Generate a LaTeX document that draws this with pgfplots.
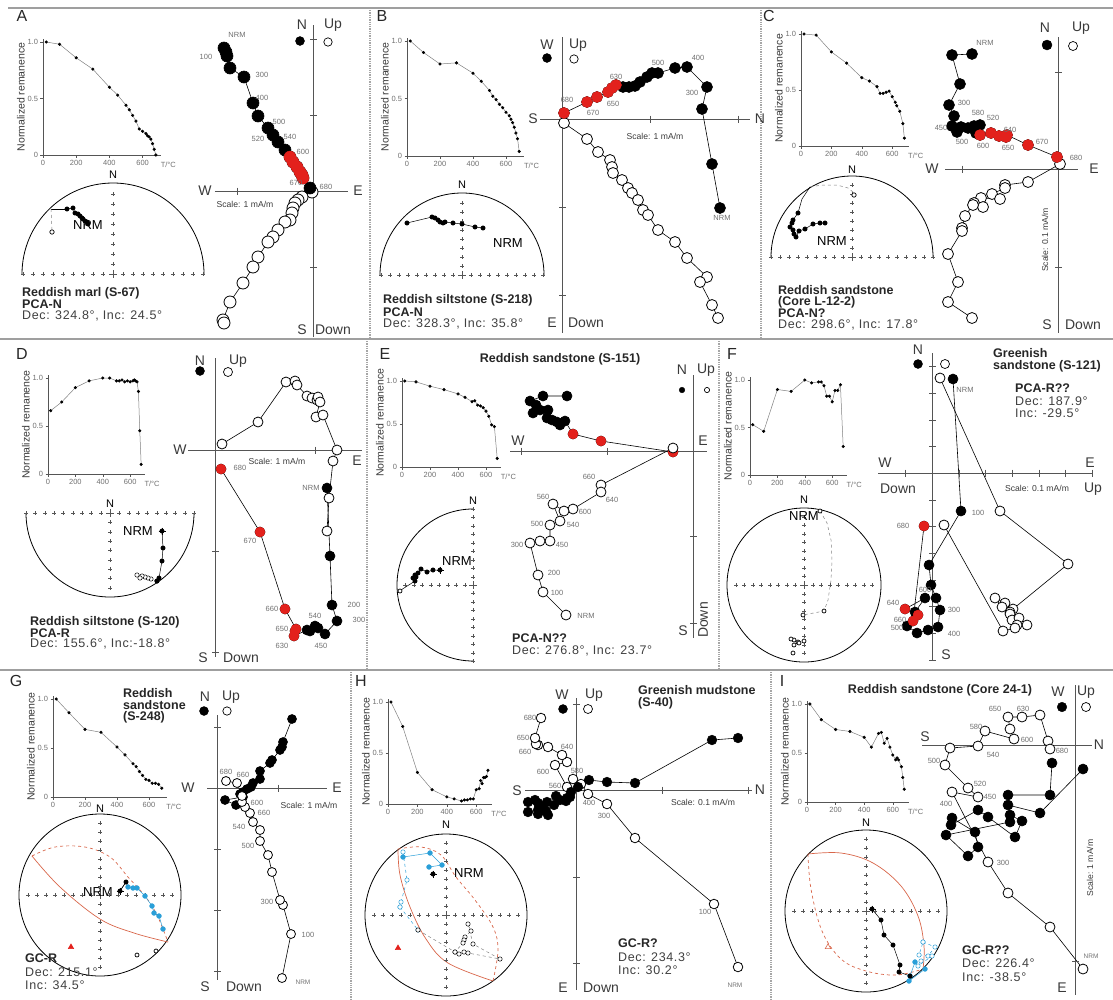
\documentclass[border=0pt]{standalone}
\usepackage{fontspec}
\setmainfont{Liberation Sans}
\newfontfamily\decfont[LetterSpace=5]{Liberation Sans}
\usepackage{pgfplots}
\pgfplotsset{compat=1.18}
\definecolor{redc}{HTML}{E3211C}
\definecolor{bluc}{HTML}{2A9FD8}
\definecolor{gcc}{HTML}{D8664A}
\definecolor{axg}{HTML}{555555}
\definecolor{tg}{HTML}{707070}
\definecolor{lg}{HTML}{3A3A3A}
\newcommand\fs[1]{\fontsize{#1}{#1}\selectfont}
\newcommand\lab[4][]{\node[inner sep=0pt,#1] at (#2pt,-#3pt) {#4};}
\pgfplotsset{
 pix/.style={x=1pt,y=1pt,anchor=origin,axis lines=none,clip=false,xmin=-5,xmax=5,ymin=-5,ymax=5},
 demag/.style={anchor=origin,clip=false,axis lines=left,axis line style={-,draw=axg,line width=0.5pt},
   xmin=0,xmax=710,ymin=0,ymax=1.03,xtick={0,200,400,600},xticklabels={0,200,400,600},
   ytick={0,0.5,1},yticklabels={0,0.5,1.0},tick align=outside,major tick length=2.5pt,
   tick style={draw=axg,line width=0.5pt},ticklabel style={font=\fs{7.5},text=tg},
   xticklabel style={yshift=1pt},yticklabel style={xshift=1pt},
   ylabel={Normalized remanence},ylabel style={font=\fs{10.5},text=lg,yshift=-4pt}},
 dm/.style={color=gray,line width=0.5pt,mark=*,mark size=1.3pt,mark options={fill=black,draw=black}},
 zf/.style={color=black,line width=0.6pt,mark=*,mark size=#1pt,mark options={fill=black,draw=black,solid}},
 zo/.style={color=black,line width=0.6pt,mark=*,mark size=#1pt,mark options={fill=white,draw=black,line width=0.8pt,solid}},
 zr/.style={only marks,mark=*,mark size=#1pt,mark options={fill=redc,draw=redc}},
 lf/.style={only marks,mark=*,mark size=#1pt,mark options={fill=black,draw=black}},
 lo/.style={only marks,mark=*,mark size=#1pt,mark options={fill=white,draw=black,line width=0.7pt}},
 htick/.style={only marks,mark=|,mark size=3.5pt,mark options={draw=axg,line width=0.7pt}},
 vtick/.style={only marks,mark=-,mark size=3.5pt,mark options={draw=axg,line width=0.7pt}},
 cross/.style={only marks,mark=+,mark size=1.7pt,mark options={draw=axg,line width=0.45pt}},
 ccross/.style={only marks,mark=+,mark size=4pt,mark options={draw=axg,line width=0.5pt}},
 sf/.style={color=black,line width=0.5pt,mark=*,mark size=2.2pt,mark options={fill=black,draw=black,solid}},
 so/.style={color=gray,dashed,line width=0.5pt,mark=*,mark size=2.2pt,mark options={fill=white,draw=black,solid,line width=0.5pt}},
 sob/.style={color=bluc,dashed,line width=0.5pt,mark=*,mark size=2.2pt,mark options={fill=white,draw=bluc,solid,line width=0.5pt}},
 sb/.style={color=bluc,line width=0.5pt,mark=*,mark size=2.4pt,mark options={fill=bluc,draw=bluc,solid}},
 nrmx/.style={only marks,mark=+,mark size=3.5pt,mark options={draw=black,line width=0.7pt}},
 gcs/.style={color=gcc,line width=0.7pt,smooth,tension=0.6,no markers},
 gcd/.style={color=gcc,line width=0.7pt,smooth,tension=0.6,no markers,dashed},
}
\tikzset{zax/.style={draw=axg,line width=0.8pt},circ/.style={draw=black,line width=0.8pt},
 tl/.style={text=tg,font=\fs{7.5}},bl/.style={font=\fs{14},text=lg},
 ttl/.style={anchor=west,font=\fs{12.5}\bfseries,text=black!85},
 dec/.style={anchor=west,font=\decfont\fs{12.5},text=black!75},
 scl/.style={font=\fs{8.6},text=lg},pl/.style={font=\fs{16},text=black!85}}
\newcommand\crossN{\addplot[cross] coordinates {(-72,0)(-63,0)(-54,0)(-45,0)(-36,0)(-27,0)(-18,0)(-9,0)(9,0)(18,0)(27,0)(36,0)(45,0)(54,0)(63,0)(72,0)(0,-72)(0,-63)(0,-54)(0,-45)(0,-36)(0,-27)(0,-18)(0,-9)(0,9)(0,18)(0,27)(0,36)(0,45)(0,54)(0,63)(0,72)};\addplot[ccross] coordinates {(0,0)};}
\begin{document}
\begin{tikzpicture}
\path[use as bounding box] (0,0) rectangle (1113pt,-999pt);
% frame
\draw[line width=2pt,draw=gray!75] (8pt,-8pt) -- (1113pt,-8pt);
\draw[line width=1.4pt,draw=gray!75] (0pt,-339pt) -- (1113pt,-339pt);
\draw[line width=1.4pt,draw=gray!75] (0pt,-670pt) -- (1113pt,-670pt);
\draw[densely dotted,line width=1.3pt,draw=gray!70] (370pt,-10pt) -- (370pt,-337pt);
\draw[densely dotted,line width=1.3pt,draw=gray!70] (761pt,-10pt) -- (761pt,-337pt);
\draw[densely dotted,line width=1.3pt,draw=gray!70] (367pt,-341pt) -- (367pt,-668pt);
\draw[densely dotted,line width=1.3pt,draw=gray!70] (719pt,-341pt) -- (719pt,-668pt);
\draw[densely dotted,line width=1.3pt,draw=gray!70] (351pt,-672pt) -- (351pt,-999pt);
\draw[densely dotted,line width=1.3pt,draw=gray!70] (771pt,-672pt) -- (771pt,-999pt);
\lab[pl]{22}{16}{A}\lab[pl]{382}{16}{B}\lab[pl]{769}{16}{C}
\lab[pl]{22}{354}{D}\lab[pl]{385}{354}{E}\lab[pl]{732}{354}{F}
\lab[pl]{16}{681}{G}\lab[pl]{361}{681}{H}\lab[pl]{782}{681}{I}

%================ A
\begin{axis}[demag,at={(43pt,-155pt)},x=0.166pt,y=113pt]
\addplot[dm] coordinates {(20,1.0)(100,0.98)(200,0.86)(300,0.76)(400,0.6)(450,0.53)(500,0.44)(520,0.4)(540,0.35)(560,0.3)(580,0.23)(600,0.21)(620,0.19)(630,0.17)(640,0.16)(650,0.14)(660,0.1)(670,0.05)(680,0.0)};
\node[tl,anchor=north,yshift=-3.5pt] at (axis cs:755,0) {T/°C};
\end{axis}
\begin{axis}[pix,at={(113pt,-274pt)}]
\draw[circ] (axis cs:91,0) arc[start angle=0,end angle=180,radius=91pt];
\addplot[cross] coordinates {(-90,0)(-80,0)(-70,0)(-60,0)(-50,0)(-40,0)(-30,0)(-20,0)(-10,0)(10,0)(20,0)(30,0)(40,0)(50,0)(60,0)(70,0)(80,0)(90,0)(0,10)(0,20)(0,30)(0,40)(0,50)(0,60)(0,70)(0,80)};
\addplot[ccross] coordinates {(0,0)};
\addplot[color=black,line width=0.5pt] coordinates {(-46,65)(-62,65)};
\addplot[color=gray,dashed,line width=0.5pt] coordinates {(-62,65)(-61,45)};
\addplot[sf] coordinates {(-46,65)(-40,66)(-38,61)(-35,60)(-33,58)(-31,56)(-30,55)(-28,53)(-26,52)(-25,50)};
\addplot[lo=2.2] coordinates {(-61,42)};
\end{axis}
\lab[font=\fs{11}]{113}{175}{N}
\lab[font=\fs{13}]{88}{225}{NRM}
\lab[ttl]{22}{293}{Reddish marl (S-67)}
\lab[ttl]{22}{304}{PCA-N}
\lab[dec]{22}{316}{Dec: 324.8°, Inc: 24.5°}
\begin{axis}[pix,at={(313pt,-191pt)}]
\draw[zax] (axis cs:-98,0) -- (axis cs:35,0);
\draw[zax] (axis cs:0,166) -- (axis cs:0,-146);
\addplot[htick] coordinates {(-76,0)};
\addplot[vtick] coordinates {(0,152)(0,76)(0,-76)};
\addplot[zo=6] coordinates {(-1,-1)(-11,-6)(-15,-9)(-18,-12)(-20,-17)(-21,-22)(-23,-29)(-28,-31)(-35,-39)(-40,-46)(-45,-51)(-55,-66)(-60,-76)(-70,-92)(-83,-111)(-90,-129)(-89,-132)};
\addplot[zf=6] coordinates {(-89,143)(-87,139)(-86,135)(-83,123)(-69,114)(-60,88)(-55,75)(-45,63)(-40,56)(-35,49)(-28,41)(-23,34)(-20,29)(-16,24)(-13,19)(-11,16)(-10,13)(-3,3)};
\addplot[zr=6] coordinates {(-23,34)(-20,29)(-16,24)(-13,19)(-11,16)(-10,13)};
\addplot[lf=4.5] coordinates {(-13,150)};
\addplot[lo=4.2] coordinates {(15,149)};
\end{axis}
\lab[bl]{302}{25}{N}\lab[bl]{333}{25}{Up}\lab[bl]{205}{191}{W}\lab[bl]{358}{191}{E}
\lab[bl]{302}{330}{S}\lab[bl]{333}{330}{Down}
\lab[scl]{245}{204}{Scale: 1 mA/m}
\lab[tl]{237}{35}{NRM}\lab[tl]{206}{57}{100}\lab[tl]{262}{75}{300}\lab[tl]{262}{98}{400}
\lab[tl]{279}{122}{500}\lab[tl]{258}{139}{520}\lab[tl]{290}{137}{540}\lab[tl]{303}{152}{600}
\lab[tl]{296}{183}{670}\lab[tl]{326}{187}{680}

%================ B
\begin{axis}[demag,at={(407pt,-156pt)},x=0.165pt,y=115pt]
\addplot[dm] coordinates {(20,1.0)(100,0.9)(200,0.8)(300,0.81)(400,0.72)(450,0.65)(500,0.57)(520,0.52)(540,0.49)(560,0.45)(580,0.42)(600,0.38)(620,0.35)(630,0.32)(640,0.29)(650,0.25)(660,0.2)(670,0.15)(680,0.04)};
\node[tl,anchor=north,yshift=-3.5pt] at (axis cs:755,0) {T/°C};
\end{axis}
\begin{axis}[pix,at={(462pt,-275pt)}]
\draw[circ] (axis cs:82,0) arc[start angle=0,end angle=180,radius=82pt];
\addplot[cross] coordinates {(-81,0)(-72,0)(-63,0)(-54,0)(-45,0)(-36,0)(-27,0)(-18,0)(-9,0)(9,0)(18,0)(27,0)(36,0)(45,0)(54,0)(63,0)(72,0)(81,0)(0,9)(0,18)(0,27)(0,36)(0,45)(0,54)(0,63)(0,72)};
\addplot[ccross] coordinates {(0,0)};
\addplot[sf] coordinates {(-55,52)(-30,58)(-27,57)(-24,55)(-22,53)(-19,52)(-17,53)(-9,52)(0,51)(13,48)(21,47)};
\end{axis}
\lab[font=\fs{11}]{462}{185}{N}
\lab[font=\fs{13}]{508}{243}{NRM}
\lab[ttl]{383}{300}{Reddish siltstone (S-218)}
\lab[ttl]{383}{312}{PCA-N}
\lab[dec]{383}{324}{Dec: 328.3°, Inc: 35.8°}
\begin{axis}[pix,at={(562pt,-119pt)}]
\draw[zax] (axis cs:-22,0) -- (axis cs:188,0);
\draw[zax] (axis cs:0,82) -- (axis cs:0,-214);
\addplot[htick] coordinates {(88,0)(176,0)};
\addplot[vtick] coordinates {(0,-88)(0,-176)};
\addplot[zo=5.5] coordinates {(2,-4)(25,-20)(36,-33)(48,-41)(50,-48)(51,-54)(60,-61)(66,-69)(70,-74)(76,-81)(81,-91)(86,-96)(96,-111)(113,-123)(125,-139)(145,-158)(138,-163)(150,-186)(156,-199)};
\addplot[zf=5.5] coordinates {(158,-89)(150,-45)(140,10)(145,32)(125,52)(113,51)(96,46)(90,46)(85,42)(78,37)(73,33)(67,32)(61,32)(54,34)(50,31)(46,27)(35,22)(25,17)(2,6)};
\addplot[zr=5.5] coordinates {(54,34)(50,31)(46,27)(35,22)(25,17)(2,6)};
\addplot[lf=4.5] coordinates {(-15,61)};
\addplot[lo=4.2] coordinates {(12,60)};
\end{axis}
\lab[bl]{547}{45}{W}\lab[bl]{578}{45}{Up}\lab[bl]{533}{119}{S}\lab[bl]{760}{119}{N}
\lab[bl]{552}{323}{E}\lab[bl]{586}{323}{Down}
\lab[scl]{655}{136}{Scale: 1 mA/m}
\lab[tl]{567}{100}{680}\lab[tl]{593}{113}{670}\lab[tl]{613}{104}{650}\lab[tl]{616}{77}{630}
\lab[tl]{658}{63}{500}\lab[tl]{698}{58}{400}\lab[tl]{692}{93}{300}\lab[tl]{722}{218}{NRM}

%================ C
\begin{axis}[demag,at={(801pt,-146pt)},x=0.152pt,y=112pt]
\addplot[dm] coordinates {(20,1.0)(100,0.99)(200,0.84)(300,0.74)(400,0.61)(450,0.58)(500,0.53)(520,0.47)(540,0.47)(560,0.48)(580,0.49)(600,0.44)(620,0.39)(630,0.36)(650,0.31)(670,0.2)(680,0.07)};
\node[tl,anchor=north,yshift=-3.5pt] at (axis cs:755,0) {T/°C};
\end{axis}
\begin{axis}[pix,at={(852pt,-257pt)}]
\draw[circ] (axis cs:81,0) arc[start angle=0,end angle=180,radius=81pt];
\addplot[cross] coordinates {(-81,0)(-72,0)(-63,0)(-54,0)(-45,0)(-36,0)(-27,0)(-18,0)(-9,0)(9,0)(18,0)(27,0)(36,0)(45,0)(54,0)(63,0)(72,0)(81,0)(0,9)(0,18)(0,27)(0,36)(0,45)(0,54)(0,63)(0,72)};
\addplot[ccross] coordinates {(0,0)};
\addplot[color=black,line width=0.5pt] coordinates {(-54,44)(-50,58)(-42,70)};
\addplot[color=gray,dashed,line width=0.5pt] coordinates {(-42,70)(-30,72)(-15,72)(-4,69)(1,65)};
\addplot[lo=2.2] coordinates {(2,62)};
\addplot[sf] coordinates {(-54,44)(-59,37)(-60,34)(-62,30)(-59,27)(-58,23)(-56,20)(-53,26)(-47,28)(-39,33)(-32,34)(-27,34)};
\end{axis}
\lab[font=\fs{11}]{852}{170}{N}
\lab[font=\fs{13}]{832}{241}{NRM}
\lab[ttl]{778}{290}{Reddish sandstone}
\lab[ttl]{778}{302}{(Core L-12-2)}
\lab[ttl]{778}{313}{PCA-N?}
\lab[dec]{778}{325}{Dec: 298.6°, Inc: 17.8°}
\begin{axis}[pix,at={(1058pt,-169pt)}]
\draw[zax] (axis cs:-113,0) -- (axis cs:20,0);
\draw[zax] (axis cs:0,132) -- (axis cs:0,-164);
\addplot[htick] coordinates {(-96,0)};
\addplot[vtick] coordinates {(0,97)(0,-98)};
\addplot[zo=5.5] coordinates {(2,5)(-30,-13)(-53,-16)(-53,-19)(-66,-25)(-58,-30)(-77,-29)(-84,-34)(-75,-38)(-85,-36)(-93,-47)(-96,-59)(-96,-62)(-110,-85)(-100,-113)(-110,-133)(-86,-149)};
\addplot[zf=5.5] coordinates {(-86,115)(-106,114)(-98,85)(-109,64)(-104,53)(-106,43)(-101,37)(-97,42)(-90,41)(-84,43)(-78,44)(-82,36)(-78,34)(-67,36)(-59,33)(-52,32)(-51,34)(-30,24)(-1,12)};
\addplot[zr=5.5] coordinates {(-78,34)(-67,36)(-59,33)(-52,32)(-51,34)(-30,24)(-1,12)};
\addplot[lf=5] coordinates {(-11,124)};
\addplot[lo=4.5] coordinates {(15,123)};
\end{axis}
\lab[bl]{1045}{28}{N}\lab[bl]{1081}{28}{Up}\lab[bl]{932}{169}{W}\lab[bl]{1094}{169}{E}
\lab[bl]{1047}{325}{S}\lab[bl]{1083}{325}{Down}
\lab[scl,rotate=90]{1045}{240}{Scale: 0.1 mA/m}
\lab[tl]{985}{43}{NRM}\lab[tl]{964}{103}{300}\lab[tl]{978}{113}{580}\lab[tl]{993}{118}{520}
\lab[tl]{941}{128}{450}\lab[tl]{962}{142}{500}\lab[tl]{983}{146}{600}\lab[tl]{1008}{148}{650}
\lab[tl]{1010}{130}{640}\lab[tl]{1042}{142}{670}\lab[tl]{1076}{158}{680}

%================ D
\begin{axis}[demag,at={(48pt,-474pt)},x=0.137pt,y=96pt]
\addplot[dm] coordinates {(20,0.66)(100,0.75)(200,0.9)(300,0.97)(400,1.0)(450,1.0)(500,0.97)(520,0.97)(540,0.98)(560,0.96)(580,0.97)(600,0.96)(620,0.97)(630,0.98)(640,0.97)(650,0.96)(660,0.86)(670,0.45)(680,0.1)};
\node[tl,anchor=north,yshift=-3.5pt] at (axis cs:760,0) {T/°C};
\end{axis}
\begin{axis}[pix,at={(110pt,-513pt)}]
\draw[circ] (axis cs:-84,0) arc[start angle=180,end angle=360,radius=84pt];
\addplot[cross] coordinates {(-84,0)(-75,0)(-65,0)(-56,0)(-47,0)(-37,0)(-28,0)(-19,0)(-9,0)(9,0)(19,0)(28,0)(37,0)(47,0)(56,0)(65,0)(75,0)(84,0)(0,-9)(0,-19)(0,-28)(0,-37)(0,-47)(0,-56)(0,-65)(0,-75)};
\addplot[ccross] coordinates {(0,0)};
\addplot[so] coordinates {(47,-68)(41,-66)(38,-65)(35,-64)(32,-63)(27,-62)(30,-65)};
\addplot[sf] coordinates {(52,-18)(53,-35)(52,-48)(49,-65)(47,-68)};
\addplot[nrmx] coordinates {(52,-18)};
\end{axis}
\lab[font=\fs{11}]{110}{504}{N}
\lab[font=\fs{13}]{138}{531}{NRM}
\lab[ttl]{30}{622}{Reddish siltstone (S-120)}
\lab[ttl]{30}{633}{PCA-R}
\lab[dec]{30}{644}{Dec: 155.6°, Inc:-18.8°}
\begin{axis}[pix,at={(215pt,-450pt)}]
\draw[zax] (axis cs:-27,0) -- (axis cs:147,0);
\draw[zax] (axis cs:0,92) -- (axis cs:0,-207);
\addplot[htick] coordinates {(100,0)};
\addplot[vtick] coordinates {(0,-101)(0,-202)};
\addplot[zo=5] coordinates {(7,6)(43,28)(71,68)(80,69)(82,65)(92,54)(97,52)(102,50)(103,53)(105,48)(101,33)(108,35)(122,0)(118,-11)(114,-48)(112,-81)};
\addplot[zf=5] coordinates {(112,-38)(115,-106)(117,-155)(122,-171)(110,-184)(103,-178)(100,-176)(95,-181)(92,-180)(79,-186)(80,-181)(81,-179)(70,-159)(45,-82)(6,-19)};
\addplot[zr=5] coordinates {(79,-186)(80,-181)(81,-179)(70,-159)(45,-82)(6,-19)};
\addplot[lf=4.5] coordinates {(-15,79)};
\addplot[lo=4.5] coordinates {(13,78)};
\end{axis}
\lab[bl]{200}{361}{N}\lab[bl]{238}{361}{Up}\lab[bl]{180}{450}{W}\lab[bl]{357}{461}{E}
\lab[bl]{203}{658}{S}\lab[bl]{241}{658}{Down}
\lab[scl]{277}{461}{Scale: 1 mA/m}
\lab[tl]{240}{468}{680}\lab[tl]{250}{541}{670}\lab[tl]{272}{609}{660}\lab[tl]{282}{629}{650}
\lab[tl]{282}{646}{630}\lab[tl]{315}{616}{540}\lab[tl]{321}{646}{450}\lab[tl]{354}{605}{200}
\lab[tl]{359}{620}{300}\lab[tl]{311}{488}{NRM}

%================ E
\lab[font=\fs{12.5}\bfseries,text=black!85]{560}{359}{Reddish sandstone (S-151)}
\begin{axis}[demag,at={(402pt,-467pt)},x=0.14pt,y=86pt]
\addplot[dm] coordinates {(20,1.0)(100,0.99)(200,0.94)(300,0.9)(400,0.85)(450,0.81)(500,0.76)(520,0.77)(540,0.72)(560,0.71)(580,0.69)(600,0.65)(620,0.59)(640,0.49)(660,0.47)(680,0.1)};
\node[tl,anchor=north,yshift=-3.5pt] at (axis cs:760,0) {T/°C};
\end{axis}
\begin{axis}[pix,at={(473pt,-585pt)}]
\draw[circ] (axis cs:0,76) arc[start angle=90,end angle=270,radius=76pt];
\addplot[cross] coordinates {(0,-76)(0,-68)(0,-59)(0,-51)(0,-42)(0,-34)(0,-25)(0,-17)(0,-8)(0,8)(0,17)(0,25)(0,34)(0,42)(0,51)(0,59)(0,68)(0,76)(-8,0)(-17,0)(-25,0)(-34,0)(-42,0)(-51,0)(-59,0)(-68,0)};
\addplot[ccross] coordinates {(0,0)};
\addplot[color=black,line width=0.5pt] coordinates {(-58,4)(-72,-5)};
\addplot[lo=2] coordinates {(-73,-6)};
\addplot[sf] coordinates {(-33,15)(-40,15)(-46,13)(-52,16)(-55,12)(-58,10)(-60,7)(-57,8)(-58,4)};
\addplot[nrmx] coordinates {(-33,15)};
\end{axis}
\lab[font=\fs{11}]{473}{501}{N}
\lab[font=\fs{13}]{457}{561}{NRM}
\lab[ttl]{512}{638}{PCA-N??}
\lab[dec]{512}{651}{Dec: 276.8°, Inc: 23.7°}
\begin{axis}[pix,at={(693pt,-451pt)}]
\draw[zax] (axis cs:-183,0) -- (axis cs:14,0);
\draw[zax] (axis cs:0,76) -- (axis cs:0,-187);
\addplot[htick] coordinates {(-172,0)(-86,0)};
\addplot[vtick] coordinates {(0,-85)(0,-172)};
\addplot[zf=5] coordinates {(-126,55)(-150,55)(-163,50)(-157,46)(-160,38)(-153,41)(-145,41)(-146,33)(-141,31)(-136,29)(-133,26)(-128,30)(-120,17)(-92,10)(-20,-1)};
\addplot[zr=5] coordinates {(-120,17)(-92,10)(-20,-1)};
\addplot[zo=5] coordinates {(-20,3)(-92,-34)(-92,-41)(-120,-58)(-129,-60)(-140,-53)(-133,-70)(-143,-74)(-143,-90)(-153,-90)(-163,-92)(-155,-124)(-150,-141)(-127,-164)};
\addplot[lf=2.8] coordinates {(-11,61)};
\addplot[lo=2.6] coordinates {(14,61)};
\end{axis}
\lab[bl]{518}{441}{W}\lab[bl]{703}{441}{E}\lab[bl]{682}{370}{N}\lab[bl]{706}{370}{Up}
\lab[bl]{683}{631}{S}\lab[bl,rotate=90]{703}{620}{Down}
\lab[tl]{589}{477}{660}\lab[tl]{612}{500}{640}\lab[tl]{585}{512}{600}\lab[tl]{543}{497}{560}
\lab[tl]{573}{525}{540}\lab[tl]{537}{524}{500}\lab[tl]{562}{545}{450}\lab[tl]{517}{545}{300}
\lab[tl]{554}{573}{200}\lab[tl]{557}{593}{100}\lab[tl]{586}{616}{NRM}

%================ F
\begin{axis}[demag,at={(750pt,-475pt)},x=0.137pt,y=95pt]
\addplot[dm] coordinates {(20,0.53)(100,0.46)(200,0.9)(300,0.88)(400,1.0)(450,0.97)(500,0.98)(520,0.98)(540,0.94)(560,0.83)(580,0.83)(600,0.77)(620,0.89)(640,0.89)(660,0.95)(680,0.3)};
\node[tl,anchor=north,yshift=-3.5pt] at (axis cs:760,0) {T/°C};
\end{axis}
\begin{axis}[pix,at={(804pt,-585pt)}]
\draw[circ] (axis cs:0,0) circle[radius=77pt];
\addplot[cross] coordinates {(-68,0)(-60,0)(-51,0)(-43,0)(-34,0)(-26,0)(-17,0)(-9,0)(9,0)(17,0)(26,0)(34,0)(43,0)(51,0)(60,0)(68,0)(0,-68)(0,-60)(0,-51)(0,-43)(0,-34)(0,-26)(0,-17)(0,-9)(0,9)(0,17)(0,26)(0,34)(0,43)(0,51)(0,60)(0,68)};
\addplot[ccross] coordinates {(0,0)};
\addplot[color=gray,dashed,line width=0.5pt] coordinates {(16,74)(23,62)(27,45)(28,25)(27,5)(24,-15)(20,-26)(-1,-30)};
\addplot[lo=2] coordinates {(16,74)(20,-26)(-1,-30)(-10,-55)(-6,-57)(-13,-54)(0,-56)(-10,-60)(-5,-58)(-11,-68)};
\end{axis}
\lab[font=\fs{11}]{804}{500}{N}
\lab[font=\fs{13}]{804}{516}{NRM}
\lab[ttl]{993}{353}{Greenish}
\lab[ttl]{993}{366}{sandstone (S-121)}
\lab[ttl]{1015}{388}{PCA-R??}
\lab[dec]{1015}{401}{Dec: 187.9°}
\lab[dec]{1015}{413}{Inc: -29.5°}
\begin{axis}[pix,at={(932pt,-473pt)}]
\draw[zax] (axis cs:-54,0) -- (axis cs:161,0);
\draw[zax] (axis cs:0,120) -- (axis cs:0,-187);
\addplot[htick] coordinates {(-27,0)(27,0)(53,0)(80,0)(107,0)(133,0)(160,0)};
\addplot[vtick] coordinates {(0,107)(0,80)(0,53)(0,27)(0,-27)(0,-53)(0,-80)(0,-107)(0,-133)(0,-160)(0,-187)};
\addplot[zo=5] coordinates {(8,95)(68,-38)(136,-91)(81,-136)(78,-139)(73,-130)(63,-125)(70,-134)(78,-141)(80,-147)(87,-145)(95,-152)(85,-152)(83,-155)(71,-158)(12,-52)};
\addplot[zf=5] coordinates {(21,94)(29,-38)(-3,-92)(-1,-112)(4,-125)(8,-137)(6,-154)(-4,-157)(-15,-160)(-25,-153)(-17,-139)(-7,-125)(-27,-136)(-14,-142)(-19,-148)(-8,-53)};
\addplot[zr=5] coordinates {(-27,-136)(-14,-142)(-19,-148)(-8,-53)};
\addplot[lf=4.5] coordinates {(-14,109)};
\addplot[lo=4.5] coordinates {(13,109)};
\end{axis}
\lab[bl]{918}{350}{N}\lab[bl]{885}{463}{W}\lab[bl]{1090}{463}{E}\lab[bl]{898}{489}{Down}
\lab[bl]{1093}{489}{Up}\lab[bl]{946}{655}{S}
\lab[scl]{1037}{488}{Scale: 0.1 mA/m}
\lab[tl]{965}{390}{NRM}\lab[tl]{978}{513}{100}\lab[tl]{903}{526}{680}\lab[tl]{925}{590}{600}
\lab[tl]{893}{603}{640}\lab[tl]{954}{610}{300}\lab[tl]{900}{620}{660}\lab[tl]{897}{628}{500}
\lab[tl]{954}{634}{400}

%================ G
\lab[ttl]{123}{693}{Reddish}
\lab[ttl]{123}{705}{sandstone}
\lab[ttl]{123}{717}{(S-248)}
\begin{axis}[demag,at={(53pt,-797pt)},x=0.16pt,y=98pt]
\addplot[dm] coordinates {(20,1.0)(100,0.86)(200,0.69)(300,0.66)(400,0.51)(450,0.43)(500,0.34)(520,0.31)(540,0.26)(560,0.22)(580,0.18)(600,0.17)(620,0.14)(640,0.14)(660,0.13)(680,0.09)};
\node[tl,anchor=north,yshift=-3.5pt] at (axis cs:755,0) {T/°C};
\end{axis}
\begin{axis}[pix,at={(100pt,-895pt)}]
\draw[circ] (axis cs:0,0) circle[radius=81pt];
\crossN
\addplot[gcs] coordinates {(-68,39)(-40,8)(0,-24)(34,-38)(68,-47)};
\addplot[gcd] coordinates {(-68,39)(-45,48)(-15,48)(10,38)(28,18)(45,-1)(57,-20)(68,-47)};
\addplot[color=black,line width=0.5pt] coordinates {(20,4)(26,13)(28,8)};
\addplot[sb] coordinates {(28,8)(33,7)(37,7)(45,-1)(52,-11)(54,-18)(59,-21)(63,-34)};
\addplot[sf] coordinates {(20,4)(26,13)};
\addplot[nrmx] coordinates {(20,4)};
\addplot[lo=2] coordinates {(37,-60)(56,-56)};
\addplot[only marks,mark=triangle*,mark size=3.2pt,mark options={fill=redc,draw=redc}] coordinates {(-29,-52)};
\end{axis}
\lab[font=\fs{11}]{100}{809}{N}
\lab[font=\fs{13}]{98}{892}{NRM}
\lab[ttl]{25}{958}{GC-R}
\lab[dec]{25}{972}{Dec: 215.1°}
\lab[dec]{25}{985}{Inc: 34.5°}
\begin{axis}[pix,at={(217pt,-788pt)}]
\draw[zax] (axis cs:-10,0) -- (axis cs:110,0);
\draw[zax] (axis cs:0,73) -- (axis cs:0,-192);
\addplot[htick] coordinates {(61,0)};
\addplot[vtick] coordinates {(0,61)(0,-61)(0,-122)(0,-183)};
\addplot[zf=4.5] coordinates {(75,69)(66,46)(65,41)(63,38)(55,28)(53,25)(43,17)(43,9)(36,5)(34,1)(30,-1)(26,-4)(23,-6)(26,-9)(8,-12)(19,-17)};
\addplot[zo=4.5] coordinates {(65,-190)(74,-146)(66,-117)(63,-112)(55,-84)(51,-67)(43,-53)(43,-42)(36,-34)(33,-25)(28,-19)(25,-14)(25,-8)(20,5)(9,7)};
\addplot[lf=4.5] coordinates {(-13,77)};
\addplot[lo=4.2] coordinates {(10,77)};
\end{axis}
\lab[bl]{205}{697}{N}\lab[bl]{231}{697}{Up}\lab[bl]{188}{788}{W}\lab[bl]{337}{788}{E}
\lab[bl]{205}{987}{S}\lab[bl]{244}{987}{Down}
\lab[scl]{309}{805}{Scale: 1 mA/m}
\lab[tl]{226}{772}{680}\lab[tl]{243}{775}{660}\lab[tl]{257}{803}{600}\lab[tl]{264}{813}{660}
\lab[tl]{239}{827}{540}\lab[tl]{248}{846}{500}\lab[tl]{267}{902}{300}\lab[tl]{308}{935}{100}
\lab[tl,font=\fs{6.5}]{303}{982}{NRM}

%================ H
\lab[ttl]{638}{690}{Greenish mudstone}
\lab[ttl]{638}{703}{(S-40)}
\begin{axis}[demag,at={(388pt,-804pt)},x=0.147pt,y=102pt]
\addplot[dm] coordinates {(20,1.0)(100,0.76)(200,0.31)(300,0.14)(400,0.07)(450,0.05)(500,0.03)(520,0.04)(540,0.04)(560,0.05)(580,0.05)(600,0.14)(620,0.15)(630,0.23)(640,0.2)(650,0.26)(660,0.26)(670,0.27)(680,0.33)};
\node[tl,anchor=north,yshift=-3.5pt] at (axis cs:755,0) {T/°C};
\end{axis}
\begin{axis}[pix,at={(446pt,-915pt)}]
\draw[circ] (axis cs:0,0) circle[radius=81pt];
\crossN
\addplot[gcs] coordinates {(-48,66)(-46,40)(-36,8)(-20,-24)(2,-48)(47,-66)};
\addplot[gcd] coordinates {(-48,66)(-25,68)(-5,60)(10,38)(29,15)(47,-12)(52,-35)(47,-66)};
\addplot[sob] coordinates {(-43,63)(-39,35)(-45,13)(-46,8)};
\addplot[sob] coordinates {(-46,8)(-28,-15)};
\addplot[so] coordinates {(-28,-15)(9,-37)(13,-39)(18,-37)(22,-38)(54,-44)(27,-29)(22,-9)(25,-16)(19,-22)(18,-25)(17,-28)(9,-37)};
\addplot[sb] coordinates {(-43,58)(-16,62)(-4,50)(-17,48)};
\addplot[sf] coordinates {(-13,41)};
\addplot[nrmx] coordinates {(-13,41)};
\addplot[only marks,mark=triangle*,mark size=3.2pt,mark options={fill=redc,draw=redc}] coordinates {(-48,-33)};
\end{axis}
\lab[font=\fs{11}]{446}{825}{N}
\lab[font=\fs{13}]{469}{873}{NRM}
\lab[ttl]{618}{943}{GC-R?}
\lab[dec]{618}{957}{Dec: 234.3°}
\lab[dec]{618}{970}{Inc: 30.2°}
\begin{axis}[pix,at={(576pt,-790pt)}]
\draw[zax] (axis cs:-51,0) -- (axis cs:176,0);
\draw[zax] (axis cs:0,92) -- (axis cs:0,-200);
\addplot[htick] coordinates {(86,0)(172,0)};
\addplot[vtick] coordinates {(0,86)(0,-87)(0,-173)};
\addplot[zo=4.8] coordinates {(162,-177)(138,-114)(59,-48)(31,-14)(12,-4)(5,6)(-3,11)(-9,3)(-21,25)(-9,28)(-14,35)(-28,43)(-38,45)(-40,46)(-41,52)(-35,72)};
\addplot[zf=4.8] coordinates {(162,52)(136,50)(59,7)(31,8)(13,10)(2,3)(-5,-2)(-9,-8)(-16,-10)(-20,-6)(-29,-12)(-38,-13)(-41,-10)(-48,-12)(-48,-22)(-38,-20)(-38,-24)(-28,-25)(-30,-21)(-35,-17)(-22,-15)(-10,-11)(-6,-7)};
\addplot[lf=4.5] coordinates {(-13,81)};
\addplot[lo=4.5] coordinates {(12,81)};
\end{axis}
\lab[bl]{562}{695}{W}\lab[bl]{594}{695}{Up}\lab[bl]{517}{791}{S}\lab[bl]{760}{790}{N}
\lab[bl]{563}{988}{E}\lab[bl]{601}{988}{Down}
\lab[scl]{703}{802}{Scale: 0.1 mA/m}
\lab[tl]{530}{718}{680}\lab[tl]{523}{738}{650}\lab[tl]{525}{752}{660}\lab[tl]{567}{747}{640}
\lab[tl]{543}{772}{600}\lab[tl]{577}{771}{580}\lab[tl]{555}{786}{560}\lab[tl]{589}{803}{400}
\lab[tl]{604}{816}{300}\lab[tl]{705}{912}{100}\lab[tl,font=\fs{6.5}]{735}{985}{NRM}

%================ I
\lab[font=\fs{12.5}\bfseries,text=black!85]{940}{690}{Reddish sandstone (Core 24-1)}
\begin{axis}[demag,at={(807pt,-802pt)},x=0.143pt,y=98pt]
\addplot[dm] coordinates {(20,1.0)(100,0.84)(200,0.74)(300,0.72)(400,0.66)(450,0.56)(500,0.7)(520,0.71)(540,0.6)(560,0.65)(580,0.56)(600,0.48)(620,0.43)(630,0.45)(640,0.43)(660,0.36)(670,0.25)(680,0.13)};
\node[tl,anchor=north,yshift=-3.5pt] at (axis cs:760,0) {T/°C};
\end{axis}
\begin{axis}[pix,at={(866pt,-911pt)}]
\draw[circ] (axis cs:0,0) circle[radius=81pt];
\crossN
\addplot[gcs] coordinates {(-58,57)(-25,58)(7,48)(35,25)(52,-5)(58,-35)(57,-58)};
\addplot[gcd] coordinates {(-58,57)(-55,22)(-44,-20)(-25,-48)(0,-60)(30,-64)(57,-58)};
\addplot[sob] coordinates {(57,-31)(69,-36)(62,-45)(55,-50)(52,-55)(66,-45)(53,-44)(57,-31)};
\addplot[sb] coordinates {(49,-51)(44,-65)(43,-70)(59,-58)};
\addplot[sf] coordinates {(6,2)(15,-9)(18,-24)(27,-34)(34,-54)(33,-61)(44,-65)};
\addplot[nrmx] coordinates {(6,2)};
\addplot[only marks,mark=triangle,mark size=3.2pt,mark options={draw=gcc,line width=0.6pt}] coordinates {(-38,-36)};
\end{axis}
\lab[font=\fs{11}]{866}{823}{N}
\lab[ttl]{962}{950}{GC-R??}
\lab[dec]{962}{963}{Dec: 226.4°}
\lab[dec]{962}{977}{Inc: -38.5°}
\begin{axis}[pix,at={(1075pt,-745pt)}]
\draw[zax] (axis cs:-153,0) -- (axis cs:17,0);
\draw[zax] (axis cs:0,60) -- (axis cs:0,-250);
\addplot[vtick] coordinates {(0,-216)};
\addplot[zf=5] coordinates {(8,-24)(-35,-68)(-67,-60)(-65,-70)(-53,-76)(-60,-92)(-87,-72)(-97,-65)(-124,-80)(-123,-73)(-100,-87)(-97,-102)(-107,-111)(-129,-90)(-65,-77)(-67,-50)(-25,-50)(-23,-18)};
\addplot[zo=5] coordinates {(8,-224)(-25,-182)(-67,-148)(-87,-117)(-123,-47)(-97,-52)(-107,-43)(-130,-20)(-125,-3)(-97,-1)(-90,14)(-61,6)(-65,16)(-67,28)(-53,28)(-35,30)(-27,4)(-25,-4)};
\addplot[lf=4.8] coordinates {(-13,38)};
\addplot[lo=4.5] coordinates {(11,38)};
\end{axis}
\lab[bl]{1058}{692}{W}\lab[bl]{1086}{692}{Up}\lab[bl]{925}{737}{S}\lab[bl]{1099}{745}{N}
\lab[bl]{1062}{988}{E}
\lab[scl,rotate=90]{1090}{868}{Scale: 1 mA/m}
\lab[tl]{995}{709}{650}\lab[tl]{1023}{709}{630}\lab[tl]{976}{727}{580}\lab[tl]{1027}{740}{600}
\lab[tl]{1062}{751}{680}\lab[tl]{993}{755}{540}\lab[tl]{934}{761}{500}\lab[tl]{980}{784}{520}
\lab[tl]{990}{797}{450}\lab[tl]{946}{804}{400}\lab[tl]{1003}{863}{300}\lab[tl,font=\fs{6.5}]{1091}{956}{NRM}
\end{tikzpicture}
\end{document}
